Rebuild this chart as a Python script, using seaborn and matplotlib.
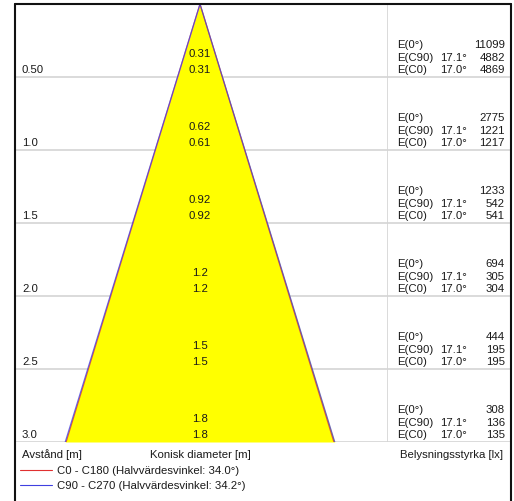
import matplotlib
matplotlib.use("Agg")
import matplotlib.pyplot as plt
from matplotlib.lines import Line2D
import numpy as np
import pandas as pd
import seaborn as sns

# ---- data ----
distances = [0.5, 1.0, 1.5, 2.0, 2.5, 3.0]
distance_labels = ["0.50", "1.0", "1.5", "2.0", "2.5", "3.0"]
diam_c90 = ["0.31", "0.62", "0.92", "1.2", "1.5", "1.8"]
diam_c0 = ["0.31", "0.61", "0.92", "1.2", "1.5", "1.8"]
e_0 = [11099, 2775, 1233, 694, 444, 308]
e_c90 = [4882, 1221, 542, 305, 195, 136]
e_c0 = [4869, 1217, 541, 304, 195, 135]
angle_c90 = 17.1
angle_c0 = 17.0
legend_labels = ["C0 - C180 (Halvvärdesvinkel: 34.0°)",
                 "C90 - C270 (Halvvärdesvinkel: 34.2°)"]

sns.set_theme(style="white")
plt.rcParams['font.family'] = ['Liberation Sans', 'DejaVu Sans']

W, H = 514, 502
fig = plt.figure(figsize=(W / 100, H / 100), dpi=100)
fig.patch.set_facecolor("white")


def fx(px):
    return px / W


def fy(py):
    return 1 - py / H


FS = 8.2
TXT = "#1a1a1a"
GRID = "#d4d4d4"

# main cone axes
L, R, T, B = 15, 387, 5, 443
ax = fig.add_axes([fx(L), fy(B), fx(R) - fx(L), fy(T) - fy(B)])
scale = (B - T) / 3.0  # px per metre
cx = 200
ax.set_xlim(-(cx - L) / scale, (R - cx) / scale)
ax.set_ylim(3.0, 0.0)
ax.axis("off")

dmax = distances[-1]
ys = np.array([0.0, dmax])
r90 = dmax * np.tan(np.radians(angle_c90))
ax.fill_betweenx(ys, [0, -r90], [0, r90], color="#ffff00", zorder=1, lw=0)

for d in distances:
    ax.axhline(d, color=GRID, lw=1.2, zorder=0.5)

edges = []
for name, ang in [("C0", angle_c0), ("C90", angle_c90)]:
    r = dmax * np.tan(np.radians(ang))
    for side in (-1, 1):
        edges.append(pd.DataFrame({"x": [0, side * r], "y": [0, dmax],
                                   "curve": name, "side": side}))
edf = pd.concat(edges, ignore_index=True)
for (name, side), g in edf.groupby(["curve", "side"]):
    sns.lineplot(data=g, x="x", y="y", ax=ax, sort=False, estimator=None,
                 color="#e03030" if name == "C0" else "#4040e0",
                 lw=0.9, alpha=0.75, zorder=3)
ax.set_xlabel("")
ax.set_ylabel("")

for i, d in enumerate(distances):
    ax.annotate(distance_labels[i], (ax.get_xlim()[0], d), xytext=(7, 8),
                textcoords="offset pixels", ha="left", va="center",
                fontsize=FS, color=TXT)
    ax.annotate(diam_c90[i], (0, d), xytext=(0, 24),
                textcoords="offset pixels", ha="center", va="center",
                fontsize=FS, color=TXT)
    ax.annotate(diam_c0[i], (0, d), xytext=(0, 8),
                textcoords="offset pixels", ha="center", va="center",
                fontsize=FS, color=TXT)

# right panel
ax2 = fig.add_axes([fx(R), fy(B), fx(511) - fx(R), fy(T) - fy(B)])
ax2.set_xlim(0, 1)
ax2.set_ylim(3.0, 0.0)
ax2.axis("off")
for d in distances:
    ax2.axhline(d, color=GRID, lw=1.2)
ax2.axvline(0, color=GRID, lw=1.2)

for i, d in enumerate(distances):
    rows = [("E(0°)", "", e_0[i], 33), ("E(C90)", f"{angle_c90:.1f}°", e_c90[i], 20),
            ("E(C0)", f"{angle_c0:.1f}°", e_c0[i], 8)]
    for lab, ang, val, off in rows:
        ax2.annotate(lab, (0, d), xytext=(10, off), textcoords="offset pixels",
                     ha="left", va="center", fontsize=FS, color=TXT)
        if ang:
            ax2.annotate(ang, (0, d), xytext=(53, off), textcoords="offset pixels",
                         ha="left", va="center", fontsize=FS, color=TXT)
        ax2.annotate(str(val), (0, d), xytext=(118, off), textcoords="offset pixels",
                     ha="right", va="center", fontsize=FS, color=TXT)

# bottom labels
fig.text(fx(22), fy(455), "Avstånd [m]", ha="left", va="center", fontsize=FS, color=TXT)
fig.text(fx(200), fy(455), "Konisk diameter [m]", ha="center", va="center", fontsize=FS, color=TXT)
fig.text(fx(503), fy(455), "Belysningsstyrka [lx]", ha="right", va="center", fontsize=FS, color=TXT)

# legend
for lab, col, yy in [(legend_labels[0], "#e03030", 471), (legend_labels[1], "#4040e0", 486)]:
    fig.add_artist(Line2D([fx(20), fx(52)], [fy(yy), fy(yy)], color=col, lw=0.8))
    fig.text(fx(57), fy(yy), lab, ha="left", va="center", fontsize=FS, color=TXT)

# outer frame
fc = "#111111"
fig.add_artist(Line2D([fx(15), fx(15)], [fy(5), fy(503)], color=fc, lw=1.5))
fig.add_artist(Line2D([fx(15), fx(511)], [fy(5), fy(5)], color=fc, lw=1.5))
fig.add_artist(Line2D([fx(511), fx(511)], [fy(5), fy(503)], color=fc, lw=1.5))

fig.savefig("out.png", dpi=100, facecolor="white")
